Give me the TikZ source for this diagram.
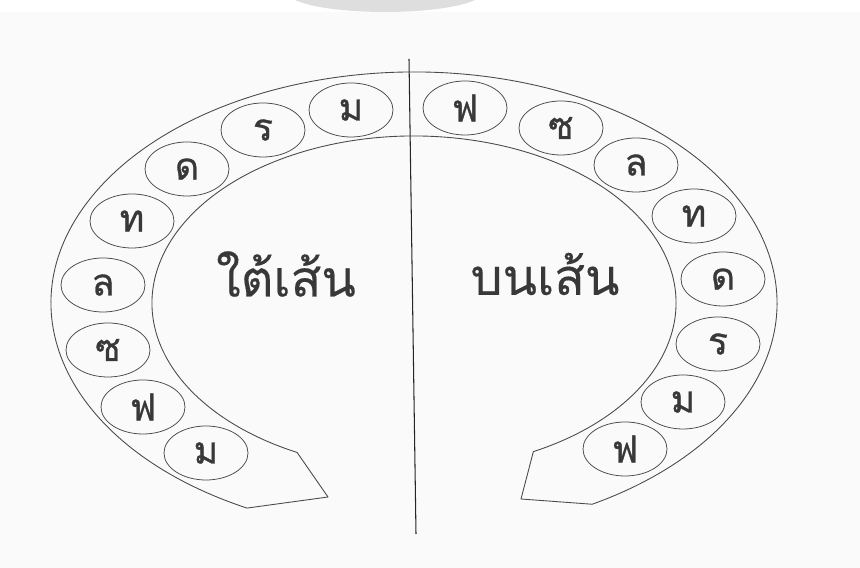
\documentclass[tikz,border=0pt]{standalone}
\usepackage{fontspec}
\usepackage{tikz}
\usetikzlibrary{calc, shapes.geometric}
\newfontfamily\thaifont[Script=Thai, FakeBold=0.8]{Loma}
\newfontfamily\thaititle[Script=Thai, FakeBold=0.3]{Loma}
\definecolor{paper}{HTML}{FAFAFA}
\definecolor{inkline}{HTML}{4A4A4A}
\definecolor{inktext}{HTML}{383838}
\definecolor{smudge}{HTML}{DEDEDE}
\tikzset{
  ringband/.style  = {draw=inkline, line width=0.75pt, line join=round},
  divider/.style   = {draw=black!85, line width=0.9pt},
  letterbub/.style = {ellipse, draw=inkline, line width=0.65pt,
                      minimum width=2.52cm, minimum height=1.62cm, inner sep=0pt,
                      text=inktext, font=\thaifont\fontsize{32}{34}\selectfont},
  sidelabel/.style = {text=inktext, inner sep=0pt,
                      font=\thaititle\fontsize{43}{46}\selectfont},
}

\begin{document}
\begin{tikzpicture}[x=0.03cm, y=0.03cm]
  \useasboundingbox (0,0) rectangle (860,568);
  \fill[white] (0,0) rectangle (860,568);
  \fill[paper] (0,0) rectangle (860,556);
  \fill[smudge] (295,568) .. controls (330,552) and (440,552) .. (475,568) -- cycle;

  \coordinate (ctr) at (414,265);
  \coordinate (ltip) at (328,71);
  \coordinate (rtip) at (521,69);
  \coordinate (topend) at (409,509);
  \coordinate (botend) at (416,34);

  % the open ring
  \draw[ringband] (ctr) ++(242.6:10.89cm and 6.93cm)
    arc[start angle=242.6, end angle=-60.6, x radius=10.89cm, y radius=6.93cm]
    -- (rtip) -- ($(ctr)+(-62.9:7.86cm and 5.01cm)$)
    arc[start angle=-62.9, end angle=243.5, x radius=7.86cm, y radius=5.01cm]
    -- (ltip) -- cycle;

  \draw[divider] (topend) -- (botend);

  % left half
  \node[letterbub] (lm1) at (351,458) {ม};
  \node[letterbub] (lr)  at (263,438) {ร};
  \node[letterbub] (ld)  at (187,399) {ด};
  \node[letterbub] (lt)  at (132,347) {ท};
  \node[letterbub] (ll)  at (103,283) {ล};
  \node[letterbub] (ls)  at (108,218) {ซ};
  \node[letterbub] (lf)  at (143,161) {ฟ};
  \node[letterbub] (lm2) at (206,115) {ม};
  % right half
  \node[letterbub] (rf1) at (465,460) {ฟ};
  \node[letterbub] (rs)  at (561,440) {ซ};
  \node[letterbub] (rl)  at (636,403) {ล};
  \node[letterbub] (rt)  at (694,352) {ท};
  \node[letterbub] (rd)  at (723,289) {ด};
  \node[letterbub] (rr)  at (718,224) {ร};
  \node[letterbub] (rm)  at (683,166) {ม};
  \node[letterbub] (rf2) at (625,119) {ฟ};

  \node[sidelabel] (under) at (286,294) {ใต้เส้น};
  \node[sidelabel] (over)  at (545,294) {บนเส้น};
\end{tikzpicture}
\end{document}
